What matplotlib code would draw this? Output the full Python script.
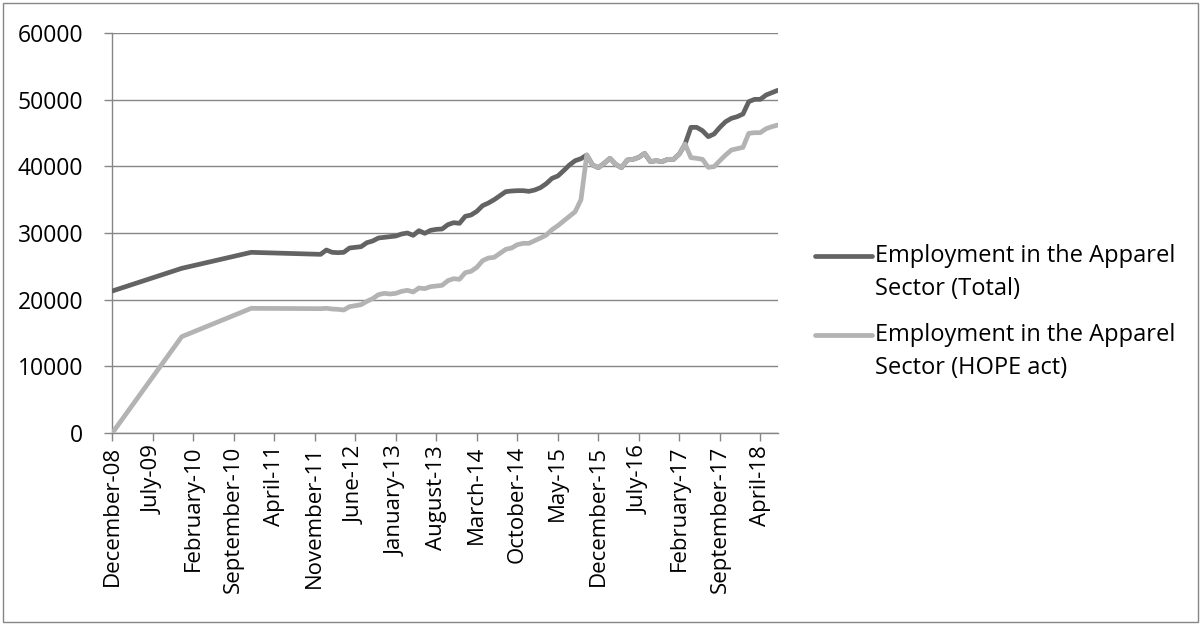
import calendar
import matplotlib
matplotlib.use("Agg")
import matplotlib.pyplot as plt
import pandas as pd
from matplotlib.lines import Line2D
from matplotlib.patches import Rectangle

plt.rcParams['font.family'] = ['Open Sans', 'DejaVu Sans']

# observation months: yearly until end of 2011, monthly afterwards
months = (['2008-12', '2009-12', '2010-12', '2011-12']
          + [str(p) for p in pd.period_range('2012-01', '2018-07', freq='M')])

total = [21300, 24700, 27100, 26800,
         # 2012
         27450, 27100, 27050, 27100, 27750, 27850, 27950, 28550, 28800, 29250, 29350, 29450,
         # 2013
         29550, 29850, 30000, 29650, 30350, 29950, 30400, 30550, 30600, 31250, 31550, 31450,
         # 2014
         32500, 32700, 33250, 34100, 34500, 35000, 35600, 36200, 36300, 36350, 36350, 36250,
         # 2015
         36450, 36800, 37400, 38200, 38550, 39350, 40200, 40850, 41150, 41700, 40200, 39800,
         # 2016
         40450, 41200, 40300, 39800, 40950, 41050, 41350, 41950, 40700, 40850, 40700, 41050,
         # 2017
         41050, 41850, 43350, 45850, 45850, 45350, 44450, 44850, 45850, 46700, 47200, 47450,
         # 2018
         47850, 49700, 50050, 50050, 50700, 51050, 51400]

hope = [0, 14450, 18700, 18650,
        # 2012
        18700, 18600, 18550, 18450, 18950, 19100, 19250, 19750, 20150, 20750, 20950, 20850,
        # 2013
        20950, 21250, 21400, 21150, 21750, 21650, 21950, 22050, 22150, 22850, 23150, 23050,
        # 2014
        24050, 24250, 24850, 25850, 26250, 26350, 26950, 27550, 27750, 28250, 28450, 28450,
        # 2015
        28850, 29250, 29700, 30500, 31100, 31800, 32500, 33200, 35000, 41700, 40200, 39800,
        # 2016
        40450, 41200, 40300, 39800, 40950, 41050, 41350, 41950, 40700, 40850, 40700, 41050,
        # 2017
        41050, 41850, 43350, 41300, 41200, 41050, 39850, 39950, 40850, 41700, 42450, 42650,
        # 2018
        42850, 44950, 45050, 45050, 45650, 45950, 46200]

series_names = [['Employment in the Apparel', 'Sector (Total)'],
                ['Employment in the Apparel', 'Sector (HOPE act)']]
series_colors = ['#636363', '#b3b3b3']

# month index counted from December 2008
per = pd.PeriodIndex(months, freq='M')
x = [(p.year - 2008) * 12 + p.month - 12 for p in per]

grid_col = '#868686'
W, H = 1200, 624
fig = plt.figure(figsize=(W / 100, H / 100), dpi=100)
ax = fig.add_axes([112.3 / W, 1 - 433 / H, (777.7 - 112.3) / W, 400 / H])

ax.plot(x, total, color=series_colors[0], lw=3.4, solid_joinstyle='round',
        solid_capstyle='round', zorder=3)
ax.plot(x, hope, color=series_colors[1], lw=3.4, solid_joinstyle='round',
        solid_capstyle='round', zorder=4)

ax.set_xlim(0, x[-1])
ax.set_ylim(0, 60000)

ticks = list(range(0, x[-1] + 1, 7))
labels = []
for t in ticks:
    p = per[0] + t
    labels.append('{}-{:02d}'.format(calendar.month_name[p.month], p.year % 100))
ax.set_xticks(ticks)
ax.set_xticklabels(labels, rotation=90, fontsize=16)
ax.set_yticks(range(0, 60001, 10000))
ax.set_yticklabels([str(v) for v in range(0, 60001, 10000)], fontsize=16.5)

ax.yaxis.grid(True, color=grid_col, lw=1.0)
ax.set_axisbelow(True)
for s in ['top', 'right']:
    ax.spines[s].set_visible(False)
for s in ['left', 'bottom']:
    ax.spines[s].set_color(grid_col)
    ax.spines[s].set_linewidth(1.0)
ax.tick_params(axis='both', direction='out', length=6, width=1.0,
               color=grid_col)
ax.tick_params(axis='y', pad=15)
ax.tick_params(axis='x', pad=3)

# legend drawn next to the plot area
leg_y = [256, 335]
for name, col, yy in zip(series_names, series_colors, leg_y):
    fig.add_artist(Line2D([815 / W, 872 / W], [1 - yy / H, 1 - yy / H],
                          color=col, lw=3.4, solid_capstyle='round'))
    for i, line in enumerate(name):
        fig.text(875 / W, 1 - (yy + 33 * i + 6) / H, line, fontsize=17,
                 va='baseline', ha='left')

# chart border
fig.add_artist(Rectangle((2.5 / W, 2.5 / H), 1 - 5 / W, 1 - 5 / H,
                         transform=fig.transFigure, fill=False,
                         edgecolor=grid_col, lw=1.0))

fig.savefig('out.png', dpi=100)
